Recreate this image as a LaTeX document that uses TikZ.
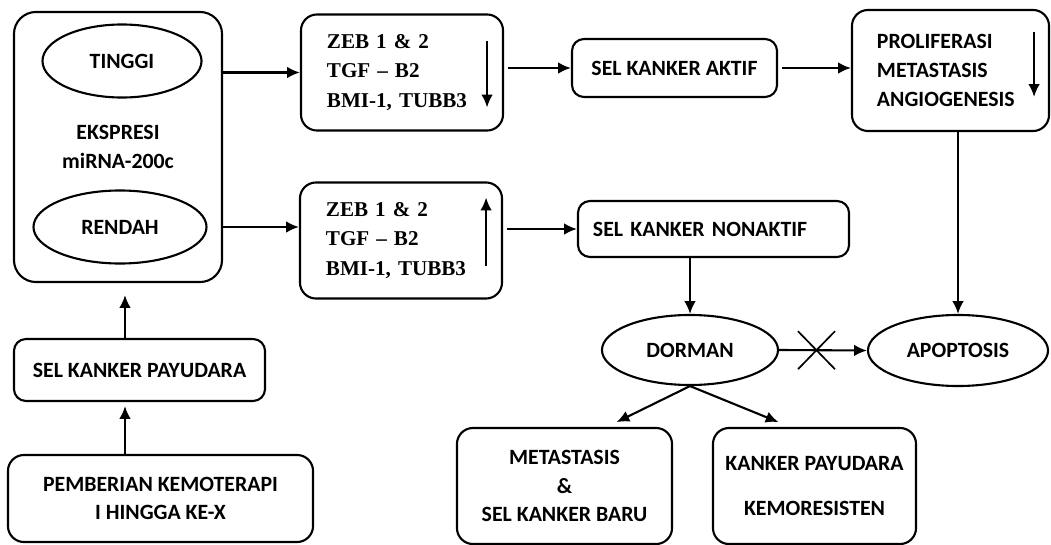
\documentclass[tikz,border=0pt]{standalone}
\usepackage{fontspec}
\setmainfont{Carlito}
\newfontfamily\serifbold{Liberation Serif}
\usetikzlibrary{shapes.geometric, arrows.meta}

\tikzset{
  >={Latex[length=3.2mm,width=2.9mm]},
  kotak/.style={draw, rounded corners=0.4cm, line width=1.5pt, align=center, font=\fontsize{15.5}{20.5}\selectfont\bfseries},
  elips/.style={draw, ellipse, line width=1.5pt, inner sep=0pt, font=\fontsize{15.5}{20.5}\selectfont\bfseries},
  gen/.style={kotak, align=left, font=\serifbold\fontsize{15}{21}\selectfont\bfseries, inner xsep=0.65cm, text width=3.75cm, minimum height=2.9cm},
  panah/.style={->, line width=1.5pt},
}

\begin{document}
\begin{tikzpicture}[x=0.025cm, y=-0.025cm]
\useasboundingbox (0,0) rectangle (1051,545);

% left column
\node[kotak, rounded corners=0.55cm, minimum width=5.2cm, minimum height=6.75cm] (ekspresi) at (118,147) {EKSPRESI\\miRNA-200c};
\node[elips, minimum width=3.975cm, minimum height=1.825cm] (tinggi) at (122,61) {TINGGI};
\node[elips, minimum width=4.325cm, minimum height=1.825cm] (rendah) at (120,227) {RENDAH};
\node[kotak, rounded corners=0.3cm, minimum width=6.275cm, minimum height=1.55cm] (payudara) at (139.5,370) {SEL KANKER PAYUDARA};
\node[kotak, minimum width=7.625cm, minimum height=2.175cm] (kemoterapi) at (160.5,498.5) {PEMBERIAN KEMOTERAPI\\I HINGGA KE-X};
\coordinate (naik) at (125,0);

% gene boxes
\node[gen] (zebA) at (402,72.5) {ZEB 1 \& 2\\TGF – B2\\BMI-1, TUBB3};
\node[gen] (zebB) at (401,240.5) {ZEB 1 \& 2\\TGF – B2\\BMI-1, TUBB3};

% right part
\node[kotak, rounded corners=0.3cm, minimum width=5.125cm, minimum height=1.45cm] (aktif) at (674.5,68) {SEL KANKER AKTIF};
\node[kotak, align=left, inner xsep=0.625cm, text width=3.675cm, minimum height=3.025cm] (prolif) at (950.5,70.5) {PROLIFERASI\\METASTASIS\\ANGIOGENESIS};
\node[kotak, rounded corners=0.3cm, align=left, inner xsep=0.375cm, text width=6.025cm, minimum height=1.4cm] (nonaktif) at (713.5,229) {SEL KANKER NONAKTIF};
\node[elips, minimum width=4.4cm, minimum height=1.75cm] (dorman) at (690,350) {DORMAN};
\node[elips, minimum width=4.5cm, minimum height=1.775cm] (apoptosis) at (958,350.5) {APOPTOSIS};
\node[kotak, minimum width=5.375cm, minimum height=2.9cm] (metastasis) at (564.5,486) {METASTASIS\\\&\\SEL KANKER BARU};
\node[kotak, minimum width=5.075cm, minimum height=2.9cm] (resisten) at (814.5,486) {KANKER PAYUDARA\\[11pt]KEMORESISTEN};

% connectors
\draw[panah] (ekspresi.east |- zebA) -- (zebA.west);
\draw[panah] (rendah -| ekspresi.east) -- (rendah -| zebB.west);
\draw[panah, shorten <=0.1cm] (zebA.east |- aktif) -- (aktif.west);
\draw[panah, shorten <=0.1cm] (aktif.east) -- (aktif.east -| prolif.west);
\draw[panah, shorten <=0.1cm] (zebB.east |- nonaktif) -- (nonaktif.west);
\draw[panah] (apoptosis.north |- prolif.south) -- (apoptosis.north);
\draw[panah] (dorman.north |- nonaktif.south) -- (dorman.north);
\draw[panah] (dorman.east) -- (apoptosis.west) coordinate[pos=0.42] (blok);
\draw[line width=1.2pt] ([shift={(-18,-19)}]blok) -- ([shift={(19,19)}]blok)
  ([shift={(-18,19)}]blok) -- ([shift={(19,-19)}]blok);
\draw[panah] (dorman.south) -- ([xshift=1.3cm,yshift=0.12cm]metastasis.north);
\draw[panah] (dorman.south) -- ([xshift=-0.9cm,yshift=0.12cm]resisten.north);
\draw[panah] (payudara.north -| naik) -- ([yshift=-0.3cm]ekspresi.south -| naik);
\draw[panah, shorten >=0.1cm] (kemoterapi.north -| naik) -- (payudara.south -| naik);

% up and down marks
\draw[panah] ([shift={(-17,28)}]zebA.north east) -- ++(0,66);
\draw[panah] ([shift={(-17,-34)}]zebB.south east) -- ++(0,-68);
\draw[panah] ([shift={(-16,23)}]prolif.north east) -- ++(0,65);

\end{tikzpicture}
\end{document}
